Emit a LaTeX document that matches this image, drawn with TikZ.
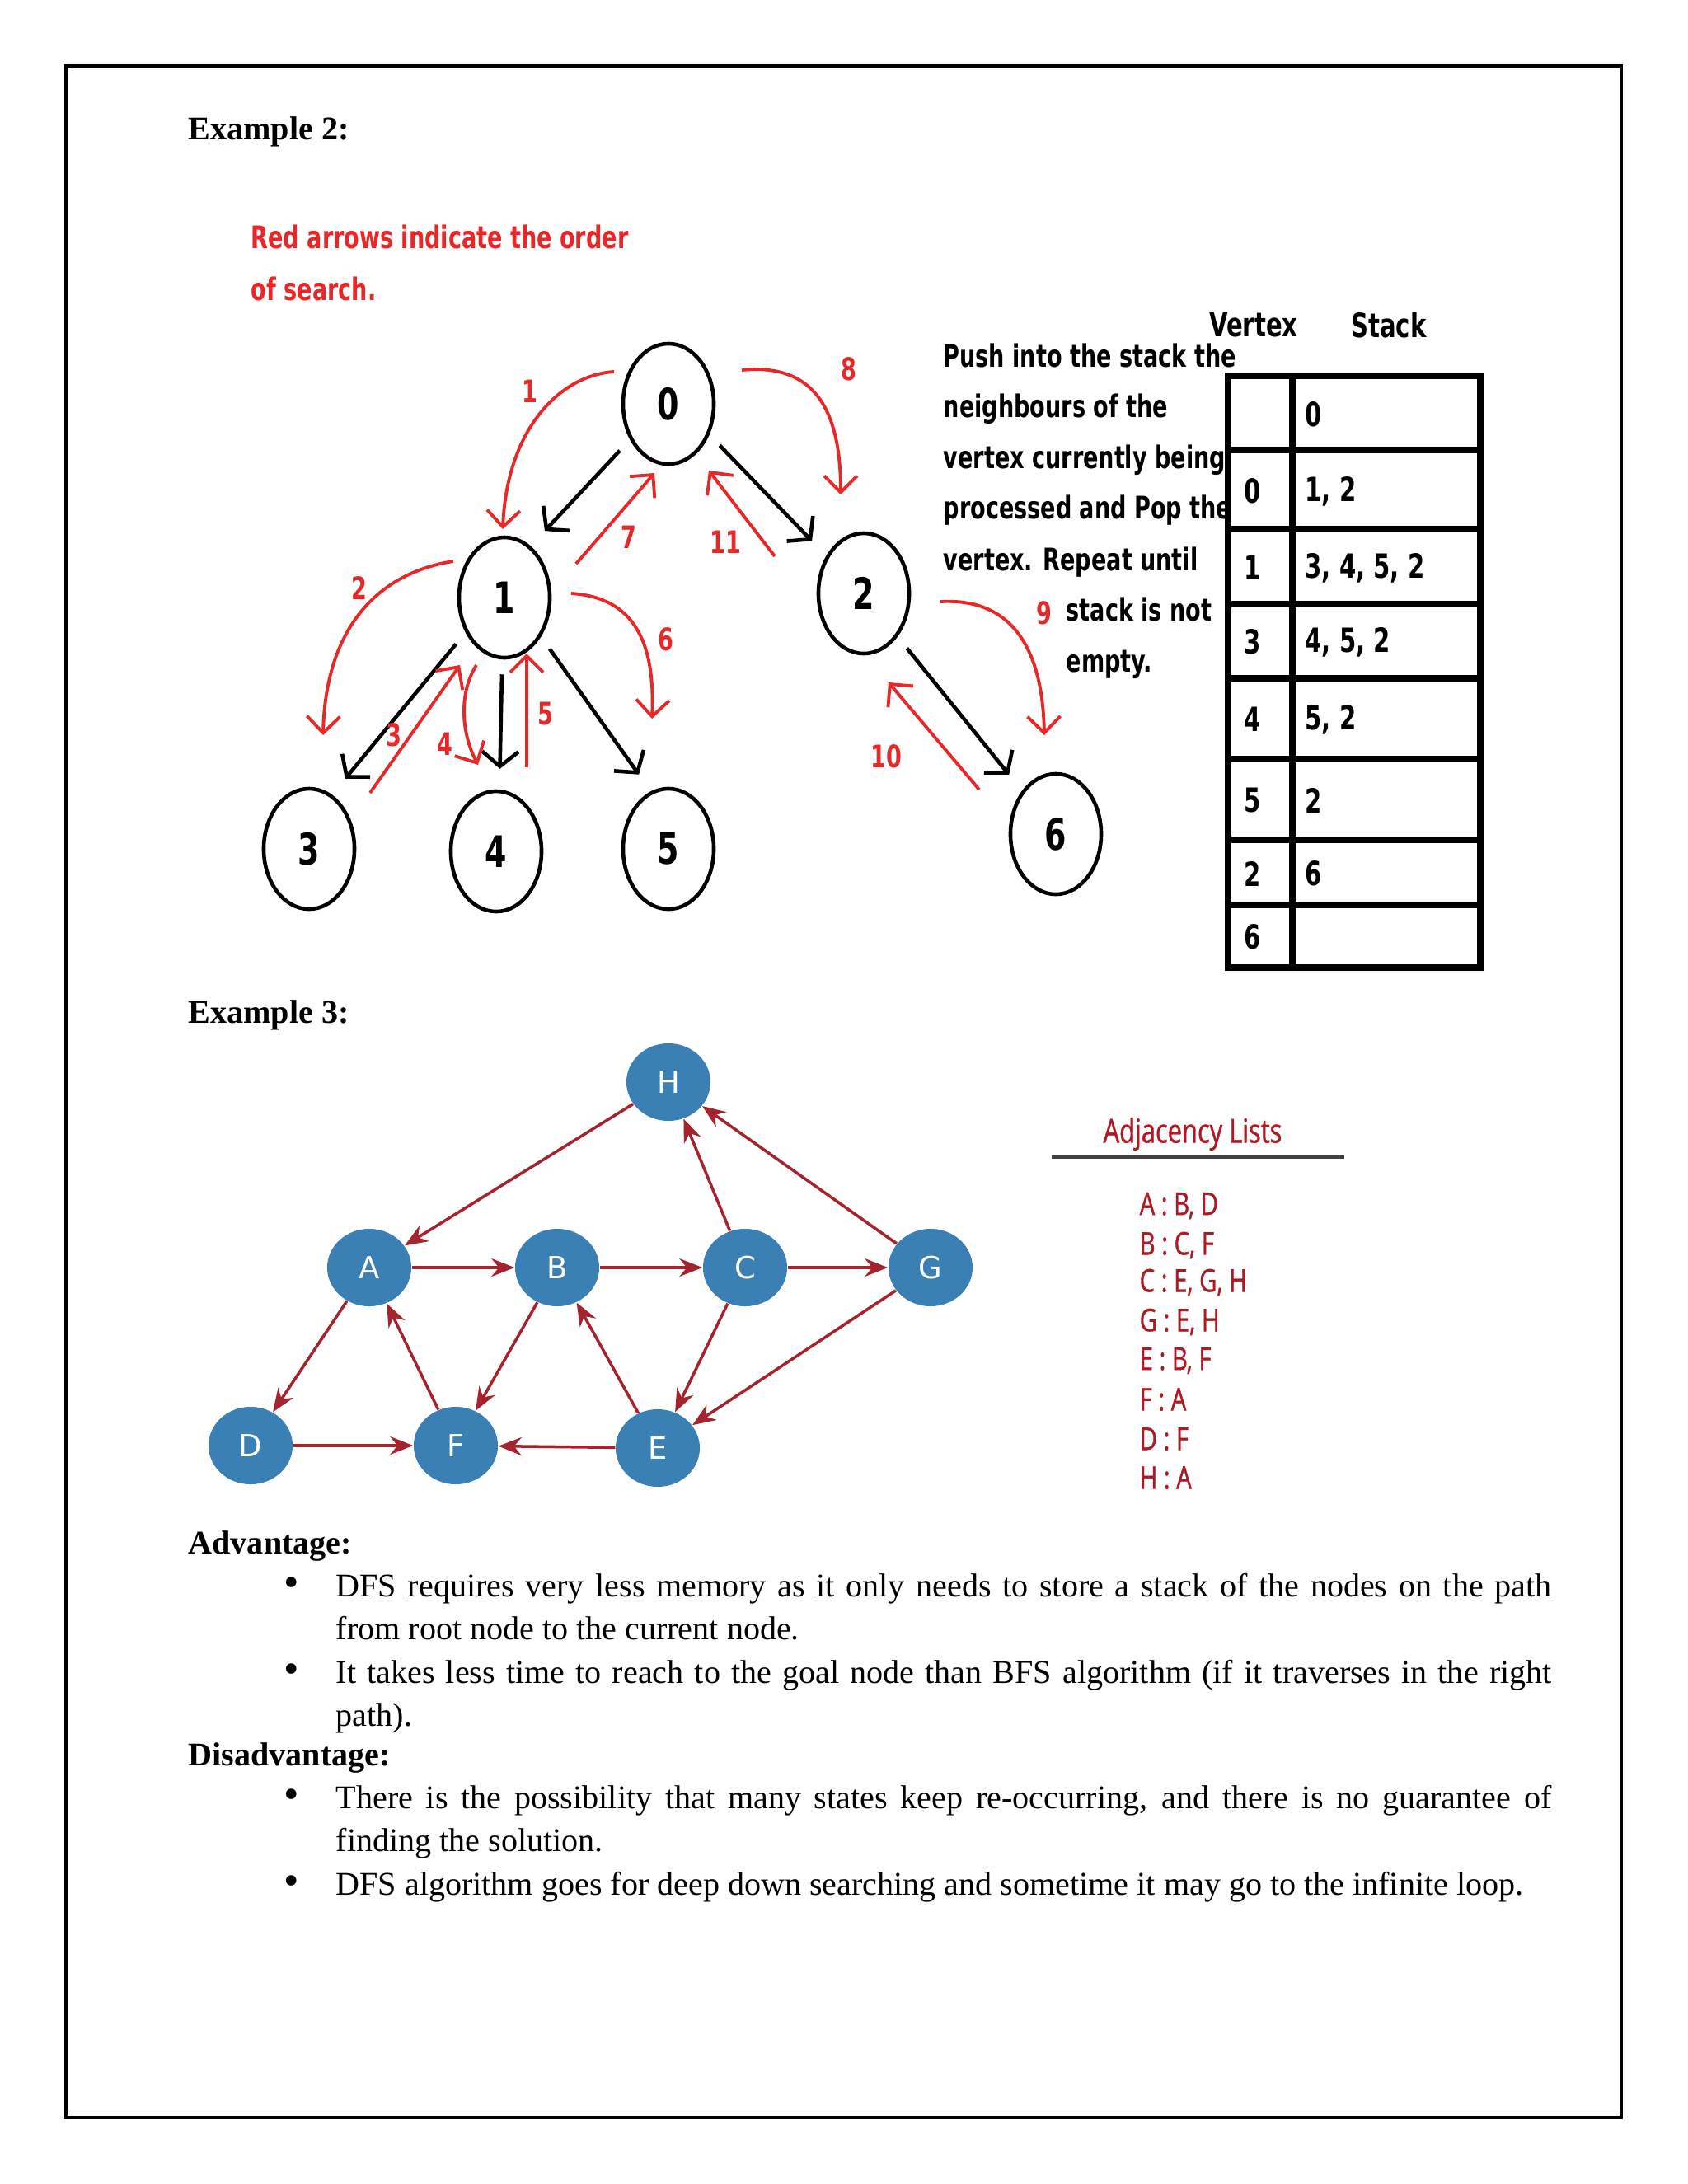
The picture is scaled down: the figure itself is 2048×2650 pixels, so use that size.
\documentclass[tikz,border=0pt]{standalone}
\usepackage{fontspec}
\setmainfont{Liberation Serif}
\newfontfamily\handfont[FakeStretch=0.72]{DejaVu Sans}
\newfontfamily\gfont{DejaVu Sans}
\newfontfamily\adjfont[FakeStretch=0.77, FakeBold=1]{Open Sans}
\usetikzlibrary{arrows.meta, shapes.geometric}
\definecolor{handred}{RGB}{232,40,40}
\definecolor{nodeblue}{RGB}{58,128,181}
\definecolor{edgered}{RGB}{165,35,45}
\definecolor{listred}{RGB}{175,25,35}
\tikzset{
  vtx/.style={ellipse, draw, line width=1.3pt, minimum width=1.1cm, minimum height=1.46cm, inner sep=0pt, font=\handfont\bfseries\fontsize{15}{15}\selectfont},
  tedge/.style={-{Straight Barb[length=1.8mm,width=4.4mm]}, line width=1.3pt, shorten <=1.8mm, shorten >=2.5mm},
  order/.style={handred, line width=1.1pt, -{Straight Barb[length=2mm,width=4mm]}},
  ordnum/.style={handred, font=\handfont\bfseries\fontsize{10.7}{12}\selectfont, inner sep=0pt},
  hand/.style={font=\handfont\bfseries\fontsize{10.7}{12}\selectfont, inner sep=0pt, anchor=west, text height=1.6ex, text depth=.4ex},
  cell/.style={font=\handfont\bfseries\fontsize{11.5}{12}\selectfont, inner sep=0pt},
  tbl/.style={line width=2.5pt},
  gnode/.style={ellipse, fill=nodeblue, text=white, minimum width=1.02cm, minimum height=0.94cm, inner sep=0pt, font=\gfont\fontsize{10.5}{11}\selectfont},
  gedge/.style={edgered, line width=1pt, -{Stealth[length=2.8mm,width=2.2mm]}},
  adj/.style={listred, font=\adjfont\fontsize{10.8}{12}\selectfont, inner sep=0pt, anchor=west},
  body/.style={font=\fontsize{11.4}{13.7}\selectfont, inner sep=0pt, anchor=west, text height=1.5ex, text depth=.3ex},
  head/.style={body, font=\bfseries\fontsize{11.4}{13.7}\selectfont},
  dot/.style={body, font=\fontsize{15}{15}\selectfont},
}
\begin{document}
\begin{tikzpicture}[x=0.01cm, y=-0.01cm]
  \useasboundingbox (0,0) rectangle (2048,2650);
  \draw[line width=0.9pt] (80,80) rectangle (1967,2569);

  \node[head] (ex2) at (228,160) {Example 2:};

  % Example 2: the tree
  \node[hand, handred] (note1) at (304,292) {Red arrows indicate the order};
  \node[hand, handred] (note2) at (304,355) {of search.};

  \node[vtx] (n0) at (811,490) {0};
  \node[vtx] (n1) at (612,725) {1};
  \node[vtx] (n2) at (1048,720) {2};
  \node[vtx] (n3) at (375,1030) {3};
  \node[vtx] (n4) at (602,1033) {4};
  \node[vtx] (n5) at (811,1030) {5};
  \node[vtx] (n6) at (1281,1012) {6};

  \draw[tedge] (n0.223) -- (n1.63);
  \draw[tedge] (n0.323) -- (n2.135);
  \draw[tedge] (n1.222) -- (n3.67);
  \draw[tedge] (n1.268) -- (n4.87);
  \draw[tedge] (n1.313) -- (n5.107);
  \draw[tedge] (n2.308) -- (n6.128);

  % red arrows, order of search
  \coordinate (r1a) at (745,451);  \coordinate (r1b) at (610,642);
  \coordinate (r2a) at (550,681);  \coordinate (r2b) at (392,892);
  \coordinate (r3a) at (449,962);  \coordinate (r3b) at (558,807);
  \coordinate (r4a) at (578,807);  \coordinate (r4b) at (580,928);
  \coordinate (r5a) at (639,931);  \coordinate (r5b) at (639,793);
  \coordinate (r6a) at (693,720);  \coordinate (r6b) at (791,872);
  \coordinate (r7a) at (699,684);  \coordinate (r7b) at (794,574);
  \coordinate (r8a) at (900,449);  \coordinate (r8b) at (1020,600);
  \coordinate (r9a) at (1141,730); \coordinate (r9b) at (1267,892);
  \coordinate (r10a) at (1188,958); \coordinate (r10b) at (1078,828);
  \coordinate (r11a) at (940,675); \coordinate (r11b) at (860,571);

  \draw[order] (r1a) .. controls (680,455) and (615,520) .. (r1b);
  \draw[order] (r2a) .. controls (460,695) and (395,760) .. (r2b);
  \draw[order] (r3a) -- (r3b);
  \draw[order] (r4a) .. controls (556,842) and (560,890) .. (r4b);
  \draw[order] (r5a) -- (r5b);
  \draw[order] (r6a) .. controls (770,725) and (795,780) .. (r6b);
  \draw[order] (r7a) -- (r7b);
  \draw[order] (r8a) .. controls (990,440) and (1020,500) .. (r8b);
  \draw[order] (r9a) .. controls (1230,725) and (1265,790) .. (r9b);
  \draw[order] (r10a) -- (r10b);
  \draw[order] (r11a) -- (r11b);

  \node[ordnum] (l1) at (643,475) {1};
  \node[ordnum] (l2) at (436,714) {2};
  \node[ordnum] (l3) at (478,892) {3};
  \node[ordnum] (l4) at (540,903) {4};
  \node[ordnum] (l5) at (662,866) {5};
  \node[ordnum] (l6) at (808,776) {6};
  \node[ordnum] (l7) at (763,652) {7};
  \node[ordnum] (l8) at (1030,448) {8};
  \node[ordnum] (l9) at (1267,744) {9};
  \node[ordnum] (l10) at (1075,918) {10};
  \node[ordnum] (l11) at (880,658) {11};

  % explanation and stack table
  \node[hand] (p1) at (1144,436) {Push into the stack the};
  \node[hand] (p2) at (1144,497) {neighbours of the};
  \node[hand] (p3) at (1144,559) {vertex currently being};
  \node[hand] (p4) at (1144,620) {processed and Pop the};
  \node[hand] (p5) at (1144,683) {vertex. Repeat until};
  \node[hand] (p6) at (1293,744) {stack is not};
  \node[hand] (p7) at (1293,806) {empty.};

  \node[cell] (vhead) at (1521,394) {Vertex};
  \node[cell] (shead) at (1685,394) {Stack};

  \draw[tbl] (1490,456) rectangle (1796,1174);
  \draw[tbl] (1568,456) -- (1568,1174);
  \foreach \y in {546,642,733,823,921,1019,1098}
    \draw[tbl] (1490,\y) -- (1796,\y);
  \foreach \y/\v/\s [count=\i] in {503/{}/0, 596/0/{1, 2}, 689/1/{3, 4, 5, 2}, 779/3/{4, 5, 2},
      873/4/{5, 2}, 971/5/2, 1060/2/6, 1137/6/{}}{
    \node[cell] (v\i) at (1520,\y) {\v};
    \node[cell, anchor=west] (s\i) at (1583,\y) {\s};
  }

  \node[head] (ex3) at (228,1232) {Example 3:};

  % Example 3: directed graph
  \node[gnode] (H) at (811,1313) {H};
  \node[gnode] (A) at (448,1538) {A};
  \node[gnode] (B) at (676,1538) {B};
  \node[gnode] (C) at (904,1538) {C};
  \node[gnode] (G) at (1129,1538) {G};
  \node[gnode] (D) at (304,1754) {D};
  \node[gnode] (F) at (553,1754) {F};
  \node[gnode] (E) at (798,1757) {E};

  \draw[gedge] (H) -- (A);
  \draw[gedge] (C) -- (H);
  \draw[gedge] (G) -- (H);
  \draw[gedge] (A) -- (B);
  \draw[gedge] (B) -- (C);
  \draw[gedge] (C) -- (G);
  \draw[gedge] (A) -- (D);
  \draw[gedge] (F) -- (A);
  \draw[gedge] (B) -- (F);
  \draw[gedge] (E) -- (B);
  \draw[gedge] (C) -- (E);
  \draw[gedge] (G) -- (E);
  \draw[gedge] (D) -- (F);
  \draw[gedge] (E) -- (F);

  \node[adj, anchor=center, font=\adjfont\fontsize{11.4}{12}\selectfont] (adjhead) at (1447,1376) {Adjacency Lists};
  \draw[line width=1.4pt, black!75] (1276,1404) -- (1631,1404);
  \foreach \y/\t [count=\i] in {1463/{A : B, D}, 1511/{B : C, F}, 1556/{C : E, G, H}, 1604/{G : E, H},
      1651/{E : B, F}, 1698/{F : A}, 1746/{D : F}, 1793/{H : A}}
    \node[adj] (adj\i) at (1382,\y) {\t};

  % advantages and disadvantages
  \node[head] (adv) at (228,1876) {Advantage:};
  \node[dot] (b1) at (344,1928) {\textbullet};
  \node[body] (t1) at (407,1928) {\makebox[14.74cm][s]{DFS requires very less memory as it only needs to store a stack of the nodes on the path}};
  \node[body] (t2) at (407,1980) {from root node to the current node.};
  \node[dot] (b2) at (344,2033) {\textbullet};
  \node[body] (t3) at (407,2033) {\makebox[14.74cm][s]{It takes less time to reach to the goal node than BFS algorithm (if it traverses in the right}};
  \node[body] (t4) at (407,2085) {path).};
  \node[head] (dis) at (228,2133) {Disadvantage:};
  \node[dot] (b3) at (344,2185) {\textbullet};
  \node[body] (t5) at (407,2185) {\makebox[14.74cm][s]{There is the possibility that many states keep re-occurring, and there is no guarantee of}};
  \node[body] (t6) at (407,2237) {finding the solution.};
  \node[dot] (b4) at (344,2290) {\textbullet};
  \node[body] (t7) at (407,2290) {DFS algorithm goes for deep down searching and sometime it may go to the infinite loop.};
\end{tikzpicture}
\end{document}
